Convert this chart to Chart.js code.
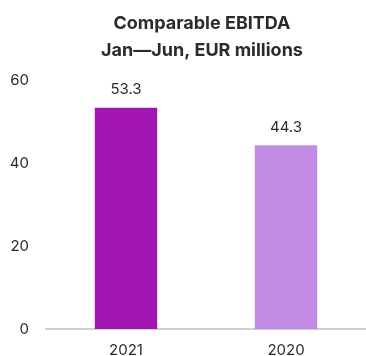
<!DOCTYPE html>
<html>
<head>
<meta charset="utf-8">
<script src="https://cdn.jsdelivr.net/npm/chart.js@4"></script>
<style>
  html, body { margin: 0; padding: 0; background: #fff; overflow: hidden; }
  #wrap { width: 366px; height: 356px; }
</style>
</head>
<body>
<div id="wrap"><canvas id="ebitdaChart" width="366" height="356"></canvas></div>
<script>
// Comparable EBITDA, Jan-Jun
const years = ['2021', '2020'];
const ebitda = [53.3, 44.3];
const barColors = ['#a116b1', '#c08ae5'];
const yTicks = [0, 20, 40, 60];
const titleLines = ['Comparable EBITDA', 'Jan\u2014Jun, EUR millions'];

const fontFamily = 'Inter, "Open Sans", sans-serif';
const textColor = '#2b2b2b';

// Two-line bold heading, centred a little left of the plot centre
const headingLines = {
  id: 'headingLines',
  afterDraw(chart) {
    const ctx = chart.ctx;
    const area = chart.chartArea;
    const cx = (area.left + area.right) / 2 - 4;
    ctx.save();
    ctx.font = 'bold 18px ' + fontFamily;
    ctx.fillStyle = textColor;
    ctx.textAlign = 'center';
    ctx.textBaseline = 'middle';
    titleLines.forEach((line, i) => {
      ctx.fillText(line, cx, 24 + i * 27);
    });
    ctx.restore();
  }
};

// Value labels above each bar
const barValueLabels = {
  id: 'barValueLabels',
  afterDatasetsDraw(chart) {
    const ctx = chart.ctx;
    const meta = chart.getDatasetMeta(0);
    ctx.save();
    ctx.font = '15px ' + fontFamily;
    ctx.fillStyle = textColor;
    ctx.textAlign = 'center';
    ctx.textBaseline = 'middle';
    meta.data.forEach((bar, i) => {
      ctx.fillText(ebitda[i].toFixed(1), bar.x, bar.y - 18);
    });
    ctx.restore();
  }
};

new Chart(document.getElementById('ebitdaChart'), {
  type: 'bar',
  data: {
    labels: years,
    datasets: [{
      data: ebitda,
      backgroundColor: barColors,
      borderWidth: 0,
      barPercentage: 0.78,
      categoryPercentage: 0.5
    }]
  },
  options: {
    responsive: false,
    animation: false,
    layout: { padding: { top: 80, right: 0, bottom: 0, left: 0 } },
    plugins: {
      legend: { display: false },
      tooltip: { enabled: false },
      title: { display: false }
    },
    scales: {
      x: {
        afterFit(scale) {
          scale.height = 27;
        },
        grid: { display: false, drawTicks: false },
        border: { display: true, color: '#cfcfcf', width: 2 },
        ticks: { color: textColor, font: { family: fontFamily, size: 15 }, padding: 12 }
      },
      y: {
        min: 0,
        max: 60,
        afterBuildTicks(scale) {
          scale.ticks = yTicks.map(v => ({ value: v }));
        },
        afterFit(scale) {
          scale.width = 46;
        },
        grid: { display: false, drawTicks: false },
        border: { display: false },
        ticks: { color: textColor, font: { family: fontFamily, size: 15 }, padding: 17 }
      }
    }
  },
  plugins: [barValueLabels, headingLines]
});
</script>
</body>
</html>
